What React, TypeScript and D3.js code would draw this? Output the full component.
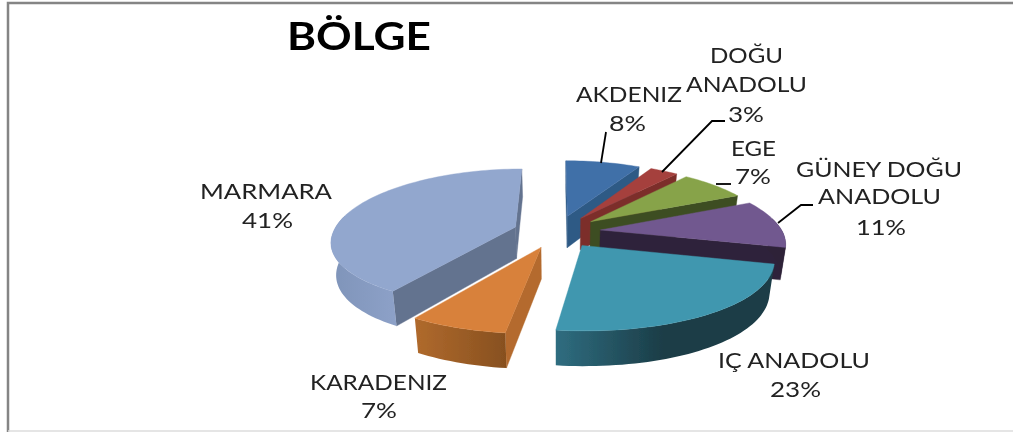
import React from "react";
import * as d3 from "d3";

// ---- data ----
const categories = ["AKDENIZ", "DOĞU ANADOLU", "EGE", "GÜNEY DOĞU ANADOLU", "IÇ ANADOLU", "KARADENIZ", "MARMARA"];
const values = [8, 3, 7, 11, 23, 7, 41];

// ---- styles ----
const topColors = ["#4170A8", "#A5403D", "#87A34A", "#71588F", "#3F97AF", "#D8813B", "#92A7CE"];
const edgeColors = ["#2F5A85", "#7C2F2C", "#3E4D22", "#2F233A", "#1C3D48", "#B46B2E", "#64738F"];
const wallLeft = ["#2F5A85", "#7C2F2C", "#3E4D22", "#2E2239", "#2F6D80", "#B06A2D", "#7F94B9"];
const wallRight = ["#2F5A85", "#7C2F2C", "#3E4D22", "#2E2239", "#1B3C46", "#87501F", "#8DA1C8"];

// ---- layout ----
const W = 1013, H = 432;
const CX = 557, CY = 231.5;
const EXPLODE = 0.24;
const RX = 182, RY = 68, PERSP_X = 0.18, PERSP_Y = 0.15, SHEAR = 0.035, DEPTH = 31.5, TAPER = 0.977;
const FONT = "Lato, Carlito, 'Open Sans', sans-serif";

type Line = { text: string; x0: number; x1: number; y: number };
const labelLines: Line[][] = [
  [{ text: "AKDENIZ", x0: 576, x1: 682, y: 102 }, { text: "8%", x0: 609, x1: 646, y: 131 }],
  [{ text: "DOĞU", x0: 710, x1: 783, y: 63 }, { text: "ANADOLU", x0: 686, x1: 807, y: 92 }, { text: "3%", x0: 728, x1: 764, y: 122 }],
  [{ text: "EGE", x0: 731, x1: 776, y: 156 }, { text: "7%", x0: 735, x1: 771, y: 184 }],
  [{ text: "GÜNEY DOĞU", x0: 796, x1: 962, y: 177 }, { text: "ANADOLU", x0: 818, x1: 941, y: 204 }, { text: "11%", x0: 856, x1: 906, y: 235 }],
  [{ text: "IÇ ANADOLU", x0: 718, x1: 870, y: 368 }, { text: "23%", x0: 770, x1: 821, y: 397 }],
  [{ text: "KARADENIZ", x0: 310, x1: 447, y: 390 }, { text: "7%", x0: 361, x1: 397, y: 418 }],
  [{ text: "MARMARA", x0: 200, x1: 332, y: 199 }, { text: "41%", x0: 242, x1: 293, y: 228 }],
];
const leaders: [number, number][][] = [
  [[606, 132], [601, 163]],
  [[725, 121], [712, 121], [662, 172]],
  [[716, 184], [731, 184]],
  [[813, 205], [801, 205], [778, 223]],
];

type P = [number, number];
// ground-plane (u right, v away) to screen, with perspective
const project = (u: number, v: number): P => {
  const dy = -(v * RY) / (1 + PERSP_Y * v);
  const dx = (u * RX) / (1 + PERSP_X * v) - SHEAR * Math.max(0, dy);
  return [CX + dx, CY + dy];
};
const drop = ([x, y]: P, v: number): P => [CX + (x - CX) * TAPER, y + DEPTH * (1 - 0.12 * v)];
const lineGen = d3.line<P>();
const closed = (pts: P[]) => lineGen(pts) + "Z";

const arcs = d3.pie<number>().sort(null).value((d) => d)(values);

const slices = arcs.map((a, i) => {
  const mid = (a.startAngle + a.endAngle) / 2;
  const ou = EXPLODE * Math.sin(mid), ov = EXPLODE * Math.cos(mid);
  const apex = project(ou, ov);
  const at = (t: number): P => project(ou + Math.sin(t), ov + Math.cos(t));
  const n = Math.max(4, Math.ceil((a.endAngle - a.startAngle) / 0.03));
  const ts = d3.range(n + 1).map((j) => a.startAngle + ((a.endAngle - a.startAngle) * j) / n);
  const rim = ts.map(at);
  const top = closed([apex, ...rim]);

  // outer wall: only the part of the rim that faces the viewer
  const lo = Math.max(a.startAngle, (80 * Math.PI) / 180);
  const hi = Math.min(a.endAngle, (280 * Math.PI) / 180);
  let outer: string | null = null;
  if (hi > lo) {
    const m = Math.ceil((hi - lo) / 0.03);
    const ws = d3.range(m + 1).map((j) => lo + ((hi - lo) * j) / m);
    const upper = ws.map(at);
    const lower = ws.map((t) => drop(at(t), Math.cos(t))).reverse();
    outer = closed([...upper, ...lower]);
  }

  // straight cut walls: kept when the top face lies above the edge
  const cut = (t: number, other: number): string | null => {
    const p = at(t), q = at(other);
    const dx = p[0] - apex[0], dy = p[1] - apex[1];
    let nx = -dy, ny = dx;
    if (nx * (q[0] - apex[0]) + ny * (q[1] - apex[1]) < 0) { nx = -nx; ny = -ny; }
    if (ny >= 0) return null;
    return closed([apex, p, drop(p, Math.cos(t)), drop(apex, 0)]);
  };
  const walls = [cut(a.startAngle, a.endAngle), cut(a.endAngle, a.startAngle)].filter(Boolean) as string[];
  return { i, mid, top, outer, walls };
});
const paintOrder = d3.sort(slices, (a, b) => d3.descending(Math.cos(a.mid), Math.cos(b.mid)));

export default function App() {
  return (
    <svg width={W} height={H} viewBox={`0 0 ${W} ${H}`} style={{ position: "fixed", left: 0, top: 0, background: "#fff" }}>
      <defs>
        {slices.map((s) => (
          <linearGradient key={s.i} id={`wall${s.i}`} x1="0" x2="1" y1="0" y2="0">
            <stop offset="0" stopColor={wallLeft[s.i]} />
            <stop offset={s.i === 4 ? 0.5 : 1} stopColor={wallRight[s.i]} />
            <stop offset="1" stopColor={wallRight[s.i]} />
          </linearGradient>
        ))}
        <filter id="soft" x="-2%" y="-2%" width="104%" height="104%">
          <feGaussianBlur stdDeviation="0.6" />
        </filter>
      </defs>
      <g filter="url(#soft)">
        <path d={`M8,432V3H${W}`} fill="none" stroke="#858585" strokeWidth={2.5} />
        <path d={`M8,431H${W}`} fill="none" stroke="#dcdcdc" strokeWidth={1.5} />
        {paintOrder.map((s) => (
          <g key={s.i}>
            {s.walls.map((d, j) => (
              <path key={j} d={d} fill={edgeColors[s.i]} stroke={edgeColors[s.i]} strokeWidth={0.4} />
            ))}
            {s.outer && <path d={s.outer} fill={`url(#wall${s.i})`} />}
            <path d={s.top} fill={topColors[s.i]} stroke={topColors[s.i]} strokeWidth={0.4} />
          </g>
        ))}
        {leaders.map((pts, i) => (
          <path key={i} d={lineGen(pts) as string} fill="none" stroke="#000" strokeWidth={1.8} />
        ))}
        <text x={287} y={50} fontFamily={FONT} fontWeight={700} fontSize={39} textLength={144} lengthAdjust="spacingAndGlyphs" fill="#000">BÖLGE</text>
        {labelLines.map((lines, i) =>
          lines.map((l, j) => (
            <text key={`${i}-${j}`} x={l.x0} y={l.y} fontFamily={FONT} fontSize={21} textLength={l.x1 - l.x0} lengthAdjust="spacingAndGlyphs" fill="#222">
              {l.text}
            </text>
          ))
        )}
      </g>
    </svg>
  );
}
